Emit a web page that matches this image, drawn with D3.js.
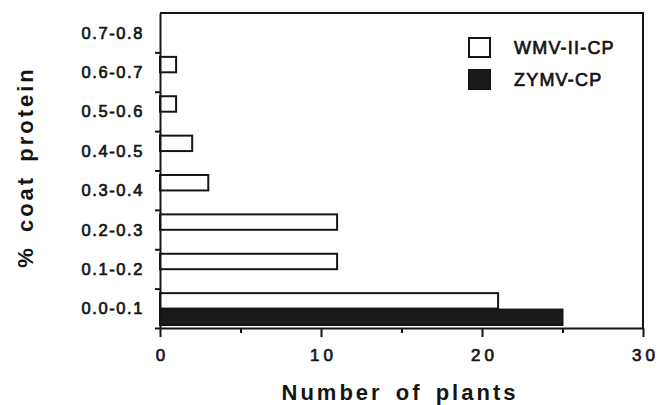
<!DOCTYPE html>
<html>
<head>
<meta charset="utf-8">
<script src="https://cdn.jsdelivr.net/npm/d3@7"></script>
<style>
  body { margin: 0; background: #fff; }
  svg { font-family: "Liberation Sans", Arial, sans-serif; }
  .tlab { font-size: 16.5px; fill: #151515; stroke: #151515; stroke-width: 0.7px; letter-spacing: 1.6px; }
  .title { font-size: 22px; font-weight: bold; fill: #151515; letter-spacing: 3px; word-spacing: 4px; }
</style>
</head>
<body>
<div id="chart"></div>
<script>
// categories top to bottom
const CATEGORIES = ["0.7-0.8", "0.6-0.7", "0.5-0.6", "0.4-0.5", "0.3-0.4", "0.2-0.3", "0.1-0.2", "0.0-0.1"];
const SERIES = ["WMV-II-CP", "ZYMV-CP"];
const WMV_VALUES = [0, 1, 1, 2, 3, 11, 11, 21];
const ZYMV_VALUES = [0, 0, 0, 0, 0, 0, 0, 25];
const X_TICKS = [0, 10, 20, 30];
const X_MINOR = [5, 15, 25];

const FRAME_WIDTH = 658;
const FRAME_HEIGHT = 405;
const MARGINS = {left: 160, right: 15, top: 13, bottom: 77};

const FRAME = d3.select("#chart")
  .append("svg")
    .attr("width", FRAME_WIDTH)
    .attr("height", FRAME_HEIGHT);

const X_SCALE = d3.scaleLinear()
  .domain([0, 30])
  .range([MARGINS.left, FRAME_WIDTH - MARGINS.right]);

const Y_BAND = d3.scaleBand()
  .domain(CATEGORIES)
  .range([MARGINS.top, FRAME_HEIGHT - MARGINS.bottom]);

// inner band for the two series in each group
const SUB = d3.scaleBand()
  .domain(SERIES)
  .range([4.5, Y_BAND.bandwidth() - 2]);

const data = [];
CATEGORIES.forEach((c, i) => {
  data.push({cat: c, series: SERIES[0], value: WMV_VALUES[i]});
  data.push({cat: c, series: SERIES[1], value: ZYMV_VALUES[i]});
});

FRAME.selectAll(".bar")
  .data(data.filter(d => d.value > 0))
  .enter()
  .append("rect")
    .attr("class", "bar")
    .attr("x", X_SCALE(0))
    .attr("y", d => Y_BAND(d.cat) + SUB(d.series))
    .attr("width", d => X_SCALE(d.value) - X_SCALE(0))
    .attr("height", SUB.bandwidth() - 1)
    .attr("fill", d => d.series === SERIES[0] ? "#fff" : "#1a1a1a")
    .attr("stroke", "#151515")
    .attr("stroke-width", 2);

// frame top and right
const x0 = X_SCALE(0), x1 = X_SCALE(30);
const yTop = MARGINS.top, yBot = FRAME_HEIGHT - MARGINS.bottom;
FRAME.append("path")
  .attr("d", `M${x0},${yTop}H${x1}V${yBot}`)
  .attr("fill", "none")
  .attr("stroke", "#151515")
  .attr("stroke-width", 2);

// x axis
const xAxis = FRAME.append("g")
  .attr("transform", "translate(0," + yBot + ")")
  .call(d3.axisBottom(X_SCALE).tickValues(X_TICKS).tickSize(9).tickPadding(12).tickSizeOuter(0));
xAxis.select(".domain").attr("stroke-width", 2).attr("stroke", "#151515");
xAxis.selectAll(".tick line").attr("stroke-width", 2).attr("stroke", "#151515");
xAxis.selectAll(".tick text")
  .attr("class", "tlab")
  .attr("font-family", null)
  .attr("font-size", null)
  .style("font-size", "17px")
  .style("letter-spacing", "4px")
  .attr("dx", "2px");

FRAME.append("g")
  .attr("transform", "translate(0," + yBot + ")")
  .call(d3.axisBottom(X_SCALE).tickValues(X_MINOR).tickSize(5).tickFormat("").tickSizeOuter(0))
  .call(g => g.select(".domain").remove())
  .selectAll(".tick line").attr("stroke-width", 2).attr("stroke", "#151515");

// y axis: tick marks at band boundaries
const Y_EDGES = d3.scaleLinear().domain([0, CATEGORIES.length]).range([yBot, yTop]);
const yAxis = FRAME.append("g")
  .attr("transform", "translate(" + x0 + ",0)")
  .call(d3.axisLeft(Y_EDGES).tickValues(d3.range(0, CATEGORIES.length)).tickSize(5).tickFormat("").tickSizeOuter(0));
yAxis.select(".domain").attr("stroke-width", 2).attr("stroke", "#151515");
yAxis.selectAll(".tick line").attr("stroke-width", 2).attr("stroke", "#151515");

// y category labels
const yLabels = FRAME.append("g")
  .attr("transform", "translate(" + x0 + ",0)")
  .call(d3.axisLeft(Y_BAND).tickSize(0).tickPadding(16));
yLabels.select(".domain").remove();
yLabels.selectAll(".tick text")
  .attr("class", "tlab")
  .attr("font-family", null)
  .attr("font-size", null)
  .attr("dy", "0.36em");

// axis titles
FRAME.append("text")
  .attr("class", "title")
  .attr("x", 400)
  .attr("y", 400)
  .attr("text-anchor", "middle")
  .text("Number of plants");

FRAME.append("text")
  .attr("class", "title")
  .attr("transform", "translate(33,167) rotate(-90)")
  .attr("text-anchor", "middle")
  .text("% coat protein");

// legend
const LEGEND = FRAME.append("g").attr("transform", "translate(468,37)");
SERIES.forEach((s, i) => {
  LEGEND.append("rect")
    .attr("x", 1)
    .attr("y", i * 32 + 1)
    .attr("width", 21)
    .attr("height", 19)
    .attr("fill", i === 0 ? "#fff" : "#1a1a1a")
    .attr("stroke", "#151515")
    .attr("stroke-width", 2);
  LEGEND.append("text")
    .attr("class", "tlab")
    .attr("x", 46)
    .attr("y", i * 32 + 11)
    .attr("dy", "0.36em")
    .style("font-size", "18px")
    .style("letter-spacing", "1.2px")
    .text(s);
});
</script>
</body>
</html>
